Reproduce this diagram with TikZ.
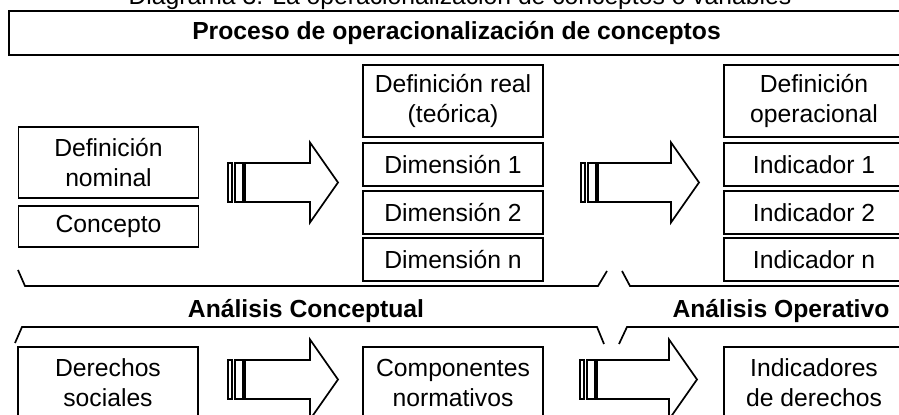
\documentclass[tikz,border=0pt]{standalone}
\usepackage{fontspec}
\setmainfont{Liberation Sans}
\usepackage{tikz}
\usetikzlibrary{positioning}
\tikzset{box/.style={draw,rectangle,line width=0.85pt,outer sep=0pt,inner sep=0pt,align=center,minimum width=90pt}}

\begin{document}
\begin{tikzpicture}[x=0.5pt,y=-0.5pt,
    font=\fontsize{12.35}{15}\selectfont,
    oneline/.style={box, minimum height=21.5pt},
    twoline/.style={box, minimum height=36pt},
    heading/.style={font=\fontsize{12.35}{15}\selectfont\bfseries},
    bars/.style={line width=0.85pt},
    blockarrow/.style={line width=0.85pt, line join=miter},
    brace/.style={line width=0.85pt},
]
\useasboundingbox (0,0) rectangle (899,415);
\clip (0,0) rectangle (899,415);

\node[anchor=base] (caption) at (460,5) {Diagrama 3. La operacionalización de conceptos o variables};
\node[box, minimum width=447.5pt, minimum height=22pt, heading] (title) at (456.5,33) {Proceso de operacionalización de conceptos};

\node[twoline, minimum height=35.5pt] (nominal) at (108.5,162.5) {Definición\\nominal};
\node[oneline, minimum height=20.5pt, below=4pt of nominal] (concepto) {Concepto};

\node[twoline] (realdef) at (453,101) {Definición real\\(teórica)};
\node[oneline, below=3pt of realdef] (dim1) {Dimensión 1};
\node[oneline, below=2.5pt of dim1] (dim2) {Dimensión 2};
\node[oneline, below=2pt of dim2] (dimn) {Dimensión n};

\node[twoline] (opdef) at (814,101) {Definición\\operacional};
\node[oneline, below=3pt of opdef] (ind1) {Indicador 1};
\node[oneline, below=2.5pt of ind1] (ind2) {Indicador 2};
\node[oneline, below=2pt of ind2] (indn) {Indicador n};

\node[twoline] (derechos) at (108,383) {Derechos\\sociales};
\node[twoline] (componentes) at (453,383) {Componentes\\normativos};
\node[twoline] (indicadores) at (814,383) {Indicadores\\de derechos};

\node[heading, anchor=base] (conceptual) at (306,318) {Análisis Conceptual};
\node[heading, anchor=base] (operativo) at (781,318) {Análisis Operativo};

\foreach \ax/\ay/\al in {228/182.5/110, 581/182.5/118, 228/379.5/110, 580/379.5/117}{
  \begin{scope}[shift={(\ax,\ay)}]
    \draw[bars] (0,-19.5) rectangle (4,19.5);
    \draw[bars] (7,-19.5) rectangle (15,19.5);
    \draw[blockarrow] (17,-19.5) -- (\al-28,-19.5) -- (\al-28,-40) -- (\al,0) -- (\al-28,40) -- (\al-28,19.5) -- (17,19.5) -- cycle;
  \end{scope}
}

\draw[brace] (18,270) -- (25,286) -- (598,286) -- (607,271);
\draw[brace] (622,271) -- (630,286) -- (910,286);
\draw[brace] (15,343) -- (22,327) -- (597,327) -- (604,344);
\draw[brace] (619,344) -- (627,327) -- (910,327);
\end{tikzpicture}
\end{document}
